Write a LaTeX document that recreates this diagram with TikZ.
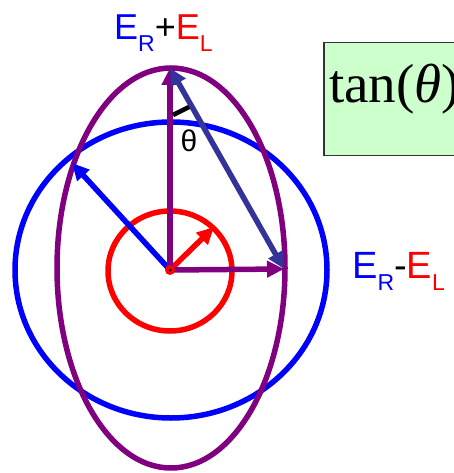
\documentclass[tikz,border=0pt]{standalone}
\usepackage{fontspec}
\setmainfont{Liberation Serif}
\setsansfont{Liberation Sans}
\usetikzlibrary{arrows.meta, positioning}
\definecolor{fieldblue}{RGB}{0,0,255}
\definecolor{fieldred}{RGB}{255,0,0}
\definecolor{fieldpurple}{RGB}{128,0,128}
\definecolor{slateblue}{RGB}{51,51,153}
\definecolor{boxgreen}{RGB}{204,255,204}
\newcommand{\lowsub}[1]{\raisebox{-12pt}{\fontsize{23}{24}\selectfont #1}}

\begin{document}
\begin{tikzpicture}[
    x=1pt, y=-1pt,
    ring/.style={line width=5.5pt},
    vec/.style={line width=5.5pt, -{Triangle[length=17pt, width=16pt]}},
    dvec/.style={line width=5.5pt, color=slateblue,
                 {Triangle[length=17pt, width=16pt]}-{Triangle[length=17pt, width=16pt]}},
    lbl/.style={font=\sffamily\fontsize{36}{40}\selectfont, inner sep=0pt, anchor=base west},
    tanbox/.style={rectangle, draw=black!80, fill=boxgreen, line width=1.5pt,
                   anchor=north west, minimum width=170pt, minimum height=113pt}
]
\useasboundingbox (0,0) rectangle (454,473);
\clip (0,0) rectangle (454,473);

% Points
\coordinate (o) at (170,270);
\coordinate (top) at (170,68);
\coordinate (right) at (284,269);
\coordinate (bluetip) at (72,163);
\coordinate (redtip) at (214,227);

% Rings
\draw[ring, fieldblue] (171,270) ellipse [x radius=156, y radius=148];
\draw[ring, fieldpurple] (171,268) ellipse [x radius=114, y radius=200];
\draw[ring, fieldred] (170,271) ellipse [x radius=62, y radius=60];

% Vectors
\draw[vec, fieldblue] (o) -- (bluetip);
\draw[vec, fieldred] (o) -- (redtip);
\draw[vec, fieldpurple] (o) -- (top);
\draw[vec, fieldpurple] (o) -- (right);
\draw[dvec] (right) -- (top);

% Centre
\fill[fieldred] (o) circle (5);
\fill[black] (o) circle (1.5);

% Angle
\draw[line width=4.5pt] (173,115) -- (189,107);
\node[font=\sffamily\fontsize{30}{32}\selectfont, inner sep=0pt] (theta) at (189,141) {θ};

% Labels
\node[lbl] (sum) at (114,40) {\textcolor{fieldblue}{E\lowsub{R}}+\textcolor{fieldred}{E\lowsub{L}}};
\node[lbl, font=\sffamily\fontsize{38}{40}\selectfont] (diff) at (352,278) {\textcolor{fieldblue}{E\lowsub{R}}-\textcolor{fieldred}{E\lowsub{L}}};

% Box
\node[tanbox] (box) at (323,42) {};
\node[font=\fontsize{55}{60}\selectfont, inner sep=0pt, anchor=base west] (tan) at (329,103) {tan(\textit{θ})};

\end{tikzpicture}
\end{document}
